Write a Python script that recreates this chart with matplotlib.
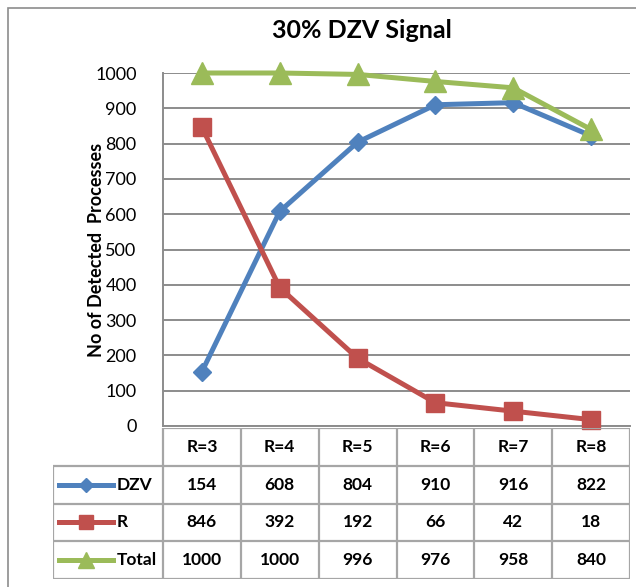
import matplotlib
matplotlib.use("Agg")
import matplotlib.pyplot as plt
from matplotlib.lines import Line2D
from matplotlib.patches import Rectangle

# Werte je Fensterbreite
categories = ["R=3", "R=4", "R=5", "R=6", "R=7", "R=8"]
dzv = [154, 608, 804, 910, 916, 822]
r_vals = [846, 392, 192, 66, 42, 18]
total = [1000, 1000, 996, 976, 958, 840]
yticks = [0, 100, 200, 300, 400, 500, 600, 700, 800, 900, 1000]

BLUE = "#4F81BD"
RED = "#C0504D"
GREEN = "#9BBB59"
GRID = "#8C8C8C"
TABLE_LINE = "#A6A6A6"
FONT = "Lato"

W, H = 636, 587
plt.rcParams["font.family"] = [FONT, "DejaVu Sans"]


def px_box(x0, y0, x1, y1):
    # Pixelkoordinaten (oben links) -> Figure-Koordinaten
    return [x0 / W, 1 - y1 / H, (x1 - x0) / W, (y1 - y0) / H]


fig = plt.figure(figsize=(W / 100, H / 100), dpi=100)

# Rahmen um das ganze Diagramm
fig.patches.append(Rectangle((8 / W, -0.1), 1.1, 1.1 - 8 / H,
                             transform=fig.transFigure, fill=False,
                             edgecolor=GRID, lw=1.2))

PLOT_L, PLOT_R, PLOT_T, PLOT_B = 163, 630, 73, 426
ax = fig.add_axes(px_box(PLOT_L, PLOT_T, PLOT_R, PLOT_B))
x = list(range(len(categories)))

series = [
    (dzv, "DZV", BLUE, "D", 9),
    (r_vals, "R", RED, "s", 13),
    (total, "Total", GREEN, "^", 16),
]
for vals, name, color, marker, ms in series:
    ax.plot(x, vals, color=color, lw=3.6, marker=marker, ms=ms,
            markeredgecolor=color, label=name, zorder=3, clip_on=False)

ax.set_xlim(-0.5, len(categories) - 0.5)
ax.set_ylim(0, 1000)
ax.set_yticks(yticks)
ax.set_yticklabels([str(v) for v in yticks], fontsize=13)
ax.set_xticks([])
ax.tick_params(axis="y", length=0, pad=19)
ax.grid(axis="y", color=GRID, lw=1.4)
ax.set_axisbelow(True)
for side in ["top", "right"]:
    ax.spines[side].set_visible(False)
ax.spines["left"].set_color(GRID)
ax.spines["left"].set_linewidth(1.4)
ax.spines["bottom"].set_color(GRID)
ax.spines["bottom"].set_linewidth(1.4)

fig.text(97 / W, 1 - (PLOT_T + PLOT_B) / 2 / H, "No of Detected  Processes",
         rotation=90, ha="center", va="center", fontsize=13, fontweight="bold")
fig.text(362 / W, 1 - 30 / H, "30% DZV Signal", ha="center", va="center",
         fontsize=18, fontweight="bold")

# Datentabelle unter dem Diagramm
col_w = (PLOT_R - PLOT_L) / len(categories)
LEG_L = 53
leg_units = (PLOT_L - LEG_L) / col_w
TAB_T, TAB_B = 428, 579
tab = fig.add_axes(px_box(LEG_L, TAB_T, PLOT_R, TAB_B))
tab.set_xlim(-0.5 - leg_units, len(categories) - 0.5)
tab.set_ylim(0, 4)
tab.axis("off")

n = len(categories)
x_left = -0.5 - leg_units
lk = dict(color=TABLE_LINE, lw=1.6, solid_capstyle="butt")
tab.plot([-0.5, n - 0.5], [4, 4], **lk)
for yy in [3, 2, 1, 0]:
    tab.plot([x_left, n - 0.5], [yy, yy], **lk)
tab.plot([x_left, x_left], [0, 3], **lk)
for k in range(n + 1):
    tab.plot([k - 0.5, k - 0.5], [0, 4], **lk)

for i, cat in enumerate(categories):
    tab.text(i, 3.5, cat, ha="center", va="center", fontsize=12.5,
             fontweight="bold")


def px_to_unit(px):
    return (px - PLOT_L) / col_w - 0.5


for row, (vals, name, color, marker, ms) in enumerate(series):
    yy = 2.5 - row
    x0, x1, xm = px_to_unit(59), px_to_unit(113), px_to_unit(86)
    tab.add_line(Line2D([x0, x1], [yy, yy], color=color, lw=3.6))
    tab.add_line(Line2D([xm], [yy], color=color, marker=marker,
                        ms=ms * 0.75, markeredgecolor=color))
    tab.text(px_to_unit(117), yy, name, ha="left", va="center",
             fontsize=12.5, fontweight="bold")
    for i, v in enumerate(vals):
        tab.text(i, yy, str(v), ha="center", va="center", fontsize=12.5,
                 fontweight="bold")

fig.savefig("out.png", dpi=100)
